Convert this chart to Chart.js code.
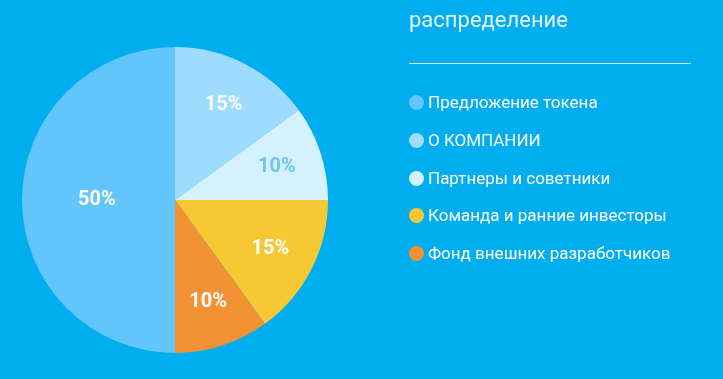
<!DOCTYPE html>
<html>
<head>
<meta charset="utf-8">
<script src="https://cdn.jsdelivr.net/npm/chart.js@4"></script>
<style>
  html, body { margin: 0; padding: 0; background: #00aeef; }
  body { width: 723px; height: 379px; position: relative; overflow: hidden; font-family: Roboto, sans-serif; }
  #chart { position: absolute; left: 0; top: 0; }
  .title { position: absolute; left: 409px; top: 7px; font-size: 22px; color: #e3f5fd; }
  .rule { position: absolute; left: 409px; top: 63px; width: 282px; height: 1px; background: #c9edfc; }
  #legend { position: absolute; left: 409px; top: 92px; list-style: none; margin: 0; padding: 0; }
  #legend li { height: 37.8px; display: flex; align-items: flex-start; font-size: 17px; color: #fff; line-height: 21px; }
  #legend span.dot { width: 15px; height: 15px; border-radius: 50%; margin: 3px 4px 0 0; display: inline-block; }
</style>
</head>
<body>
<canvas id="chart" width="723" height="379"></canvas>
<div class="title">распределение</div>
<div class="rule"></div>
<ul id="legend"></ul>
<script>
const labels = ["Предложение токена", "О КОМПАНИИ", "Партнеры и советники", "Команда и ранние инвесторы", "Фонд внешних разработчиков"];
const shares = [50, 15, 10, 15, 10];
const colors = ["#62c6fd", "#9ddcff", "#d5f1fd", "#f6c834", "#f39234"];
const labelColors = ["#ffffff", "#ffffff", "#6ec4f2", "#ffffff", "#ffffff"];

// percentage labels inside the slices
const sliceLabels = {
    id: "sliceLabels",
    afterDatasetsDraw(chart) {
        const ctx = chart.ctx;
        const meta = chart.getDatasetMeta(0);
        ctx.save();
        ctx.font = "bold 20px Roboto, sans-serif";
        ctx.textAlign = "center";
        ctx.textBaseline = "middle";
        meta.data.forEach((arc, i) => {
            const p = arc.getProps(["x", "y", "startAngle", "endAngle", "outerRadius"], true);
            const mid = (p.startAngle + p.endAngle) / 2;
            const r = p.outerRadius * (shares[i] >= 50 ? 0.51 : 0.7);
            ctx.fillStyle = labelColors[i];
            ctx.fillText(shares[i] + "%", p.x + Math.cos(mid) * r, p.y + Math.sin(mid) * r);
        });
        ctx.restore();
    }
};

const ctx = document.getElementById("chart").getContext("2d");
new Chart(ctx, {
    type: "pie",
    data: { labels: labels, datasets: [{ data: shares, backgroundColor: colors, borderWidth: 0 }] },
    options: {
        responsive: false, animation: false, rotation: 180,
        layout: { padding: { left: 22, right: 395, top: 47, bottom: 26 } },
        plugins: { legend: { display: false }, tooltip: { enabled: false } }
    },
    plugins: [sliceLabels]
});

// legend built from the same arrays
const legend = document.getElementById("legend");
labels.forEach((name, i) => {
    const li = document.createElement("li");
    li.innerHTML = '<span class="dot" style="background:' + colors[i] + '"></span>' + name;
    legend.appendChild(li);
});
</script>
</body>
</html>
